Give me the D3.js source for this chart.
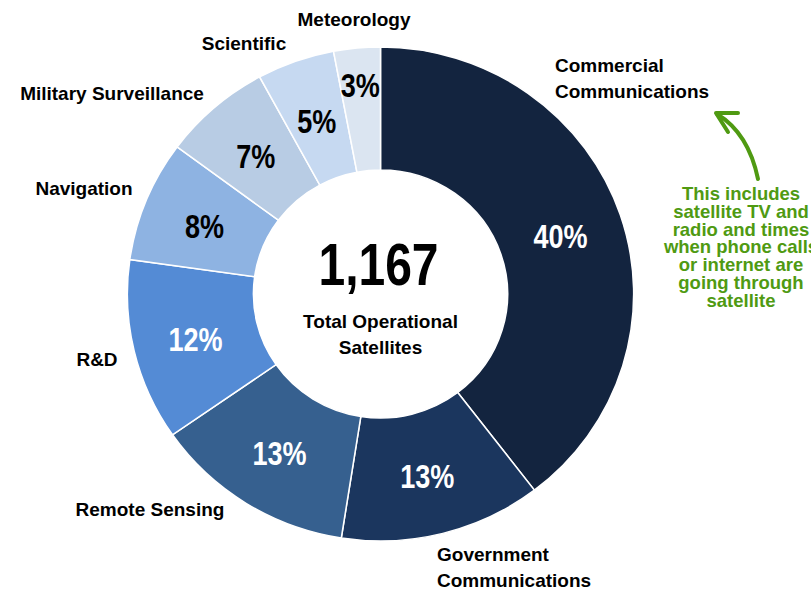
<!DOCTYPE html>
<html>
<head>
<meta charset="utf-8">
<script src="https://cdn.jsdelivr.net/npm/d3@7"></script>
<style>
  html, body { margin: 0; padding: 0; background: #fff; overflow: hidden; }
  svg { display: block; }
  .lbl { font-family: "Liberation Sans", Arial, sans-serif; font-weight: bold; fill: #000; }
  .num { font-family: "Liberation Sans", Arial, sans-serif; font-weight: bold; }
</style>
</head>
<body>
<svg id="chart" width="811" height="590"></svg>
<script>
// Satellite purpose shares (percent), clockwise from 12 o'clock
const categories = [
  "Commercial Communications", "Government Communications", "Remote Sensing", "R&D",
  "Navigation", "Military Surveillance", "Scientific", "Meteorology"
];
const shares = [40, 13, 13, 12, 8, 7, 5, 3];
const totalSatellites = 1167;
const centerCaption = ["Total Operational", "Satellites"];
const noteLines = [
  "This includes", "satellite TV and", "radio and times", "when phone calls",
  "or internet are", "going through", "satellite"
];

const palette = ["#13243f", "#1b365e", "#36608f", "#548bd5", "#8eb3e2", "#b8cce4", "#c6d9f1", "#dbe5f1"];
const pctInk  = ["#fff", "#fff", "#fff", "#fff", "#000", "#000", "#000", "#000"];

// Category label layout: split lines, anchor and position
const labelLayout = {
  "Commercial Communications": { lines: ["Commercial", "Communications"], x: 555, y: 72, anchor: "start" },
  "Government Communications": { lines: ["Government", "Communications"], x: 437, y: 561, anchor: "start" },
  "Remote Sensing":            { lines: ["Remote Sensing"], x: 150, y: 516, anchor: "middle" },
  "R&D":                       { lines: ["R&D"], x: 97, y: 366, anchor: "middle" },
  "Navigation":                { lines: ["Navigation"], x: 84, y: 195, anchor: "middle" },
  "Military Surveillance":     { lines: ["Military Surveillance"], x: 112, y: 100, anchor: "middle" },
  "Scientific":                { lines: ["Scientific"], x: 244, y: 50, anchor: "middle" },
  "Meteorology":               { lines: ["Meteorology"], x: 354, y: 26, anchor: "middle" }
};

const svg = d3.select("#chart");
const cx = 380.5, cy = 294, rOuter = 247, rInner = 124, stretchX = 1.025;
const narrow = 0.82; // condensed look for the figures

const color = d3.scaleOrdinal().domain(categories).range(palette);
const ink = d3.scaleOrdinal().domain(categories).range(pctInk);

const rows = categories.map((c, i) => ({ category: c, value: shares[i] }));
const pie = d3.pie().value(d => d.value).sort(null);
const arcs = pie(rows);
const arc = d3.arc().innerRadius(rInner).outerRadius(rOuter);
// Thin slices get their figure pushed toward the outer edge
const outerLabelArc = d3.arc().innerRadius(212).outerRadius(212);
const labelPoint = d => (d.endAngle - d.startAngle) < 0.2 ? outerLabelArc.centroid(d) : arc.centroid(d);

// Ring
svg.append("g")
  .attr("transform", `translate(${cx},${cy}) scale(${stretchX},1)`)
  .selectAll("path")
  .data(arcs)
  .join("path")
  .attr("d", arc)
  .attr("fill", d => color(d.data.category))
  .attr("stroke", "#fff")
  .attr("stroke-width", 1.5);

// Percentages on each segment
svg.append("g")
  .selectAll("text")
  .data(arcs)
  .join("text")
  .attr("class", "num")
  .attr("transform", d => {
    const [x, y] = labelPoint(d);
    return `translate(${cx + x * stretchX},${cy + y + 2}) scale(${narrow},1)`;
  })
  .attr("dy", "0.36em")
  .attr("text-anchor", "middle")
  .attr("font-size", 33)
  .attr("fill", d => ink(d.data.category))
  .text(d => d.data.value + "%");

// Category labels
const lblG = svg.append("g");
categories.forEach(c => {
  const L = labelLayout[c];
  const t = lblG.append("text")
    .attr("class", "lbl")
    .attr("x", L.x).attr("y", L.y)
    .attr("text-anchor", L.anchor)
    .attr("font-size", 19);
  L.lines.forEach((ln, i) => {
    t.append("tspan").attr("x", L.x).attr("dy", i === 0 ? 0 : 26).text(ln);
  });
});

// Centre total
svg.append("text")
  .attr("class", "num")
  .attr("transform", `translate(${cx - 2},285) scale(0.8,1)`)
  .attr("text-anchor", "middle")
  .attr("font-size", 60)
  .attr("fill", "#000")
  .text(d3.format(",")(totalSatellites));

const cap = svg.append("text")
  .attr("class", "lbl")
  .attr("x", cx).attr("y", 328)
  .attr("text-anchor", "middle")
  .attr("font-size", 19);
centerCaption.forEach((ln, i) => {
  cap.append("tspan").attr("x", cx).attr("dy", i === 0 ? 0 : 26).text(ln);
});

// Green annotation: arrow pointing back to the commercial label
const green = "#4f9a12";
svg.append("path")
  .attr("d", "M758,179 C752,150 740,128 717,114")
  .attr("fill", "none")
  .attr("stroke", green)
  .attr("stroke-width", 4)
  .attr("stroke-linecap", "round");
svg.append("path")
  .attr("d", "M738,113 L716,113 L728,132")
  .attr("fill", "none")
  .attr("stroke", green)
  .attr("stroke-width", 4)
  .attr("stroke-linecap", "round")
  .attr("stroke-linejoin", "round");

const note = svg.append("text")
  .attr("class", "lbl")
  .attr("x", 741).attr("y", 200)
  .attr("text-anchor", "middle")
  .attr("font-size", 18.5)
  .style("fill", green);
noteLines.forEach((ln, i) => {
  note.append("tspan").attr("x", 741).attr("dy", i === 0 ? 0 : 17.8).text(ln);
});
</script>
</body>
</html>
